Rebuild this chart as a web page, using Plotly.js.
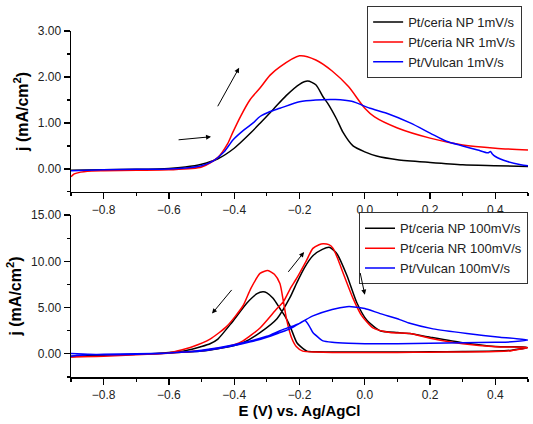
<!DOCTYPE html>
<html>
<head>
<meta charset="utf-8">
<script src="https://cdn.plot.ly/plotly-3.0.1.min.js"></script>
<style>html,body{margin:0;padding:0;background:#fff;}#chart{width:533px;height:424px;}</style>
</head>
<body>
<div id="chart"></div>
<script>
// ---- 1 mV/s (top panel) ----
const npSlowE = [-0.9,-0.8,-0.7,-0.6,-0.55,-0.5,-0.45,-0.4,-0.35,-0.32,-0.28,-0.24,-0.2,-0.175,-0.15,-0.128,-0.113,-0.086,-0.067,-0.036,0.0,0.036,0.1,0.2,0.3,0.4,0.5];
const npSlowJ = [-0.03,-0.02,-0.01,0.01,0.04,0.1,0.22,0.45,0.78,1.0,1.3,1.6,1.84,1.91,1.83,1.57,1.42,1.08,0.8,0.5,0.37,0.28,0.2,0.14,0.09,0.07,0.05];

const nrSlowE = [-0.9,-0.89,-0.87,-0.85,-0.8,-0.7,-0.6,-0.5,-0.45,-0.42,-0.404,-0.38,-0.352,-0.321,-0.29,-0.26,-0.2,-0.15,-0.1,-0.05,0.0,0.03,0.1,0.2,0.3,0.4,0.5];
const nrSlowJ = [-0.17,-0.11,-0.07,-0.05,-0.04,-0.03,-0.02,0.04,0.25,0.55,0.8,1.15,1.5,1.76,2.04,2.22,2.46,2.37,2.13,1.79,1.32,1.13,0.89,0.67,0.52,0.45,0.41];

const vuSlowE = [-0.9,-0.8,-0.7,-0.6,-0.55,-0.5,-0.465,-0.43,-0.404,-0.37,-0.342,-0.321,-0.29,-0.26,-0.2,-0.15,-0.09,-0.04,0.016,0.067,0.139,0.2,0.25,0.3,0.346,0.377,0.385,0.39,0.4,0.437,0.478,0.5];
const vuSlowJ = [-0.04,-0.02,-0.01,0.0,0.02,0.07,0.17,0.38,0.63,0.85,1.0,1.14,1.25,1.32,1.46,1.5,1.51,1.47,1.32,1.21,1.0,0.78,0.6,0.5,0.41,0.35,0.38,0.33,0.27,0.16,0.09,0.07];

// ---- 100 mV/s (bottom panel), forward sweep then reverse sweep ----
const npFastE = [-0.9,-0.85,-0.8,-0.7,-0.6,-0.5,-0.45,-0.4,-0.373,-0.321,-0.269,-0.229,-0.208,-0.185,-0.159,-0.13,-0.107,-0.085,-0.055,-0.024,0.007,0.047,0.1,0.138,0.2,0.3,0.4,0.5,
                 0.45,0.4,0.3,0.2,0.1,0.0,-0.1,-0.15,-0.177,-0.19,-0.208,-0.229,-0.245,-0.26,-0.281,-0.3,-0.312,-0.33,-0.361,-0.407,-0.45,-0.474,-0.5,-0.55,-0.6,-0.7,-0.8,-0.9];
const npFastJ = [-0.3,-0.2,-0.15,-0.05,0.1,0.3,0.55,0.9,1.2,2.3,3.8,6.1,7.7,9.3,10.6,11.3,11.5,10.8,8.5,5.5,3.6,2.5,2.3,2.2,1.8,1.2,0.8,0.7,
                 0.4,0.3,0.25,0.22,0.2,0.2,0.2,0.22,0.3,0.6,1.2,3.0,4.1,4.9,6.0,6.6,6.7,6.5,5.5,3.4,1.6,1.1,0.8,0.35,0.15,-0.05,-0.15,-0.25];

const nrFastE = [-0.9,-0.85,-0.8,-0.7,-0.6,-0.5,-0.45,-0.4,-0.373,-0.321,-0.269,-0.25,-0.229,-0.208,-0.18,-0.159,-0.14,-0.128,-0.11,-0.097,-0.082,-0.067,-0.036,-0.009,0.025,0.077,0.138,0.2,0.3,0.4,0.5,
                 0.45,0.4,0.3,0.2,0.1,0.0,-0.1,-0.15,-0.19,-0.21,-0.225,-0.24,-0.25,-0.26,-0.277,-0.297,-0.321,-0.35,-0.373,-0.422,-0.474,-0.526,-0.575,-0.6,-0.7,-0.8,-0.9];
const nrFastJ = [-0.35,-0.3,-0.25,-0.1,0.1,0.35,0.6,1.0,1.4,2.8,4.9,5.6,7.0,8.2,10.0,11.4,11.8,11.9,11.8,11.4,10.2,8.8,6.0,4.1,2.8,2.3,2.2,1.7,1.1,0.76,0.68,
                 0.35,0.25,0.2,0.18,0.15,0.14,0.15,0.2,0.3,0.8,1.8,3.8,5.8,7.6,8.6,9.0,8.7,7.0,5.2,3.0,1.6,0.8,0.3,0.1,-0.1,-0.25,-0.3];

const vuFastE = [-0.9,-0.85,-0.8,-0.7,-0.6,-0.5,-0.4,-0.35,-0.3,-0.26,-0.229,-0.2,-0.159,-0.1,-0.055,-0.04,0.0,0.047,0.107,0.138,0.209,0.313,0.414,0.5,
                 0.45,0.4,0.3,0.2,0.1,0.0,-0.05,-0.1,-0.128,-0.14,-0.159,-0.17,-0.183,-0.2,-0.229,-0.26,-0.3,-0.4,-0.5,-0.6,-0.7,-0.8,-0.9];
const vuFastJ = [-0.25,-0.1,-0.05,0.0,0.1,0.3,0.9,1.3,1.8,2.3,2.7,3.3,4.1,4.8,5.1,5.1,4.9,4.35,3.7,3.3,2.7,2.2,1.8,1.5,
                 1.3,1.25,1.2,1.15,1.1,1.1,1.15,1.25,1.4,1.7,2.3,3.0,3.6,3.3,2.9,2.5,1.9,1.0,0.4,0.1,-0.05,-0.1,0.05];

const slowNames = ['Pt/ceria NP 1mV/s','Pt/ceria NR 1mV/s','Pt/Vulcan 1mV/s'];
const fastNames = ['Pt/ceria NP 100mV/s','Pt/ceria NR 100mV/s','Pt/Vulcan 100mV/s'];
const colors = ['#000000','#ff0000','#0000ff'];

// sweep-direction arrows (tail -> head) in data units, and the panel each belongs to
const arrowTailE = [-0.453,-0.575,-0.404,-0.238,-0.015];
const arrowTailJ = [1.33,0.63,7.07,8.7,8.9];
const arrowHeadE = [-0.385,-0.471,-0.468,-0.186,0.0];
const arrowHeadJ = [2.2,0.70,4.35,11.0,6.4];
const arrowPanel = ['1','1','2','2','2'];

const FONT = 'Arial, "Liberation Sans", sans-serif';

const slowE = [npSlowE, nrSlowE, vuSlowE], slowJ = [npSlowJ, nrSlowJ, vuSlowJ];
const fastE = [npFastE, nrFastE, vuFastE], fastJ = [npFastJ, nrFastJ, vuFastJ];

const traces = [];
for (let i = 0; i < 3; i++) {
  traces.push({x: slowE[i], y: slowJ[i], name: slowNames[i], mode: 'lines', type: 'scatter',
    line: {color: colors[i], width: 1.5, shape: 'spline', smoothing: 0.7}, xaxis: 'x', yaxis: 'y', legend: 'legend'});
}
for (let i = 0; i < 3; i++) {
  traces.push({x: fastE[i], y: fastJ[i], name: fastNames[i], mode: 'lines', type: 'scatter',
    line: {color: colors[i], width: 1.5, shape: 'spline', smoothing: 0.6}, xaxis: 'x2', yaxis: 'y2', legend: 'legend2'});
}

const annotations = arrowTailE.map((t, k) => {
  const p = arrowPanel[k];
  const xa = p === '1' ? 'x' : 'x2', ya = p === '1' ? 'y' : 'y2';
  return {x: arrowHeadE[k], y: arrowHeadJ[k], ax: arrowTailE[k], ay: arrowTailJ[k],
    xref: xa, yref: ya, axref: xa, ayref: ya, text: '', showarrow: true,
    arrowhead: 2, arrowsize: 1, arrowwidth: 1, arrowcolor: '#000'};
});

const xCommon = {range: [-0.9, 0.5], dtick: 0.2, tick0: 0, tickformat: '.1f', showline: true, linecolor: '#000', linewidth: 1.5,
  ticks: 'outside', ticklen: 6, tickwidth: 1.2, tickcolor: '#000', showgrid: false, zeroline: false,
  tickfont: {family: FONT, size: 12, color: '#222'},
  minor: {dtick: 0.1, ticks: 'outside', ticklen: 3, tickcolor: '#000', tickwidth: 1.2, showgrid: false}};
const yCommon = {showline: true, linecolor: '#000', linewidth: 1.5, ticks: 'outside', ticklen: 6, tickwidth: 1.2, tickcolor: '#000',
  showgrid: false, zeroline: false, tickformat: '.2f', tickfont: {family: FONT, size: 12, color: '#222'}};

const layout = {
  width: 533, height: 424,
  margin: {l: 71, r: 5, t: 31, b: 47},
  paper_bgcolor: '#fff', plot_bgcolor: '#fff',
  font: {family: FONT, color: '#000'},
  showlegend: true,
  xaxis: Object.assign({}, xCommon, {anchor: 'y', domain: [0, 1]}),
  yaxis: Object.assign({}, yCommon, {domain: [0.535, 1], anchor: 'x', range: [-0.5, 3.0], dtick: 1, tick0: 0,
    minor: {dtick: 0.5, ticks: 'outside', ticklen: 3, tickcolor: '#000', tickwidth: 1.2},
    title: {text: '<b>j (mA/cm<sup>2</sup>)</b>', font: {family: FONT, size: 16, color: '#000'}, standoff: 5}}),
  xaxis2: Object.assign({}, xCommon, {anchor: 'y2', domain: [0, 1],
    title: {text: '<b>E (V) vs. Ag/AgCl</b>', font: {family: FONT, size: 15, color: '#000'}, standoff: 4}}),
  yaxis2: Object.assign({}, yCommon, {domain: [0, 0.468], anchor: 'x2', range: [-2.5, 15], dtick: 5, tick0: 0,
    minor: {dtick: 2.5, ticks: 'outside', ticklen: 3, tickcolor: '#000', tickwidth: 1.2},
    title: {text: '<b>j (mA/cm<sup>2</sup>)</b>', font: {family: FONT, size: 16, color: '#000'}, standoff: 5}}),
  legend: {x: 0.648, y: 1.072, xanchor: 'left', yanchor: 'top', bgcolor: '#fff', bordercolor: '#333', borderwidth: 1,
    font: {family: FONT, size: 13, color: '#222'}, tracegroupgap: 0, itemwidth: 30},
  legend2: {x: 1.0, y: 0.476, xanchor: 'right', yanchor: 'top', bgcolor: '#fff', bordercolor: '#333', borderwidth: 1,
    font: {family: FONT, size: 13, color: '#222'}, tracegroupgap: 0, itemwidth: 30},
  annotations: annotations
};

Plotly.newPlot('chart', traces, layout, {displayModeBar: false, staticPlot: true});
</script>
</body>
</html>
